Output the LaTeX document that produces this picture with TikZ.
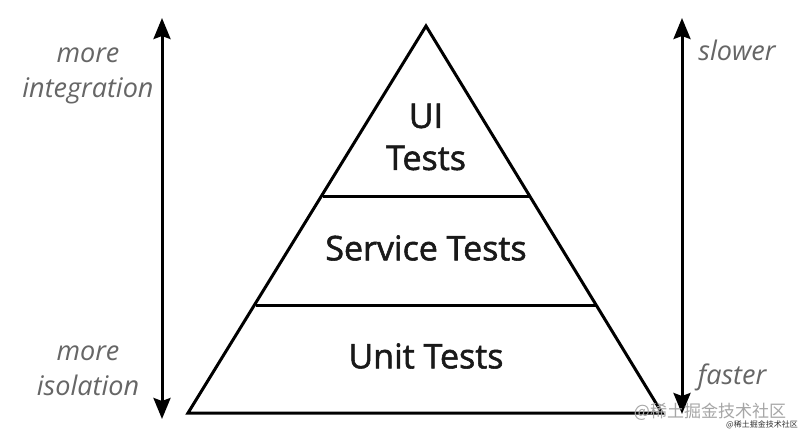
\documentclass[tikz,border=0pt]{standalone}
\usepackage{fontspec}
\setmainfont{Open Sans}
\newfontfamily\heavyfont{Open Sans}[FakeBold=1.6]
\newfontfamily\cjkfont{Noto Sans CJK SC}
\usetikzlibrary{arrows.meta}
\begin{document}
\begin{tikzpicture}[x=1pt,y=-1pt,
  edge/.style={line width=3pt, line join=miter},
  axis/.style={line width=3pt, {Stealth[length=21pt,width=17pt,inset=3pt]}-{Stealth[length=21pt,width=17pt,inset=3pt]}},
  layer/.style={font=\heavyfont\fontsize{34}{42}\selectfont, text=black!90, align=center, inner sep=0pt},
  side/.style={font=\fontsize{27}{35}\selectfont\itshape, text=black!60, align=center, inner sep=0pt},
  wmark/.style={font=\cjkfont\fontsize{17}{17}\selectfont, text=black!35, inner sep=0pt}]
\useasboundingbox (0,0) rectangle (800,437);
\fill[white] (0,0) rectangle (800,437);
% pyramid corners
\coordinate (apex) at (426,26);
\coordinate (bl) at (188,413);
\coordinate (br) at (662,413);
\coordinate (d1l) at (323,196);
\coordinate (d1r) at (529,196);
\coordinate (d2l) at (256,305);
\coordinate (d2r) at (596,305);
\draw[edge] (apex) -- (br) -- (bl) -- cycle;
\draw[edge] (d1l) -- (d1r);
\draw[edge] (d2l) -- (d2r);
% layer labels
\node[layer] (ui) at (426,137) {UI\\Tests};
\node[layer] (svc) at (426,248) {Service Tests};
\node[layer] (unit) at (426,356) {Unit Tests};
% axes
\coordinate (lt) at (162,18);
\coordinate (lb) at (162,419);
\coordinate (rt) at (682,18);
\coordinate (rb) at (682,414);
\draw[axis] (lb) -- (lt);
\draw[axis] (rb) -- (rt);
% side labels
\node[side] (integ) at (88,76) {more\\integration};
\node[side] (iso) at (88,371) {more\\isolation};
\node[side] (slow) at (737,50) {slower};
\node[side] (fast) at (732,377) {faster};
% watermark
\node[wmark] (wm) at (710,412) {@稀土掘金技术社区};
\node[font=\cjkfont\fontsize{8}{8}\selectfont, text=black!80, inner sep=0pt] (wm2) at (762,425) {@稀土掘金技术社区};
\end{tikzpicture}
\end{document}
